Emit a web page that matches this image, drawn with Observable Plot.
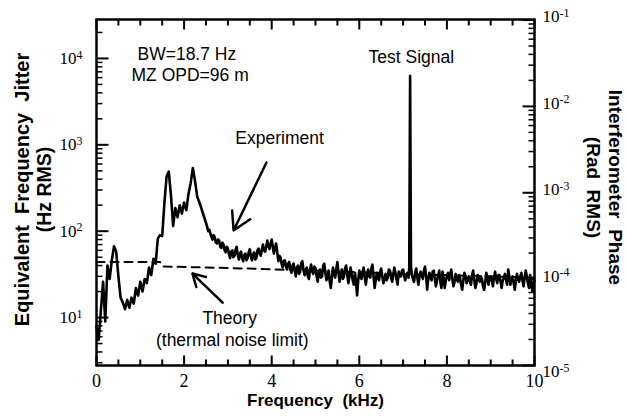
<!DOCTYPE html>
<html><head><meta charset="utf-8">
<script src="https://cdn.jsdelivr.net/npm/d3@7"></script>
<script src="https://cdn.jsdelivr.net/npm/@observablehq/plot@0.6"></script>
<style>
html,body{margin:0;padding:0;background:#fff;}
</style></head><body><div id="chart"></div>
<script>
// Experiment spectrum (frequency in kHz, equivalent frequency jitter in Hz RMS)
const freqKHz = [
  0,0.05,0.1,0.15,0.2,0.25,0.3,0.35,0.4,0.45,
  0.5,0.55,0.6,0.65,0.7,0.75,0.8,0.85,0.9,0.95,
  1,1.05,1.1,1.15,1.2,1.25,1.3,1.35,1.4,1.45,
  1.5,1.55,1.6,1.65,1.7,1.75,1.8,1.85,1.9,1.95,
  2,2.05,2.1,2.15,2.2,2.25,2.3,2.35,2.4,2.45,
  2.5,2.525,2.55,2.575,2.6,2.625,2.65,2.675,2.7,2.725,2.75,2.775,2.8,2.825,2.85,2.875,2.9,2.925,2.95,2.975,
  3,3.025,3.05,3.075,3.1,3.125,3.15,3.175,3.2,3.225,3.25,3.275,3.3,3.325,3.35,3.375,3.4,3.425,3.45,3.475,
  3.5,3.525,3.55,3.575,3.6,3.625,3.65,3.675,3.7,3.725,3.75,3.775,3.8,3.825,3.85,3.875,3.9,3.925,3.95,3.975,
  4,4.025,4.05,4.075,4.1,4.125,4.15,4.175,4.2,4.225,4.25,4.275,4.3,4.325,4.35,4.375,4.4,4.425,4.45,4.475,
  4.5,4.525,4.55,4.575,4.6,4.625,4.65,4.675,4.7,4.725,4.75,4.775,4.8,4.825,4.85,4.875,4.9,4.925,4.95,4.975,
  5,5.025,5.05,5.075,5.1,5.125,5.15,5.175,5.2,5.225,5.25,5.275,5.3,5.325,5.35,5.375,5.4,5.425,5.45,5.475,
  5.5,5.525,5.55,5.575,5.6,5.625,5.65,5.675,5.7,5.725,5.75,5.775,5.8,5.825,5.85,5.875,5.9,5.925,5.95,5.975,
  6,6.025,6.05,6.075,6.1,6.125,6.15,6.175,6.2,6.225,6.25,6.275,6.3,6.325,6.35,6.375,6.4,6.425,6.45,6.475,
  6.5,6.525,6.55,6.575,6.6,6.625,6.65,6.675,6.7,6.725,6.75,6.775,6.8,6.825,6.85,6.875,6.9,6.925,6.95,6.975,
  7,7.025,7.05,7.075,7.1,7.125,7.14,7.16,7.18,7.2,7.225,7.25,7.275,7.3,7.325,7.35,7.375,7.4,7.425,7.45,7.475,
  7.5,7.525,7.55,7.575,7.6,7.625,7.65,7.675,7.7,7.725,7.75,7.775,7.8,7.825,7.85,7.875,7.9,7.925,7.95,7.975,
  8,8.025,8.05,8.075,8.1,8.125,8.15,8.175,8.2,8.225,8.25,8.275,8.3,8.325,8.35,8.375,8.4,8.425,8.45,8.475,
  8.5,8.525,8.55,8.575,8.6,8.625,8.65,8.675,8.7,8.725,8.75,8.775,8.8,8.825,8.85,8.875,8.9,8.925,8.95,8.975,
  9,9.025,9.05,9.075,9.1,9.125,9.15,9.175,9.2,9.225,9.25,9.275,9.3,9.325,9.35,9.375,9.4,9.425,9.45,9.475,
  9.5,9.525,9.55,9.575,9.6,9.625,9.65,9.675,9.7,9.725,9.75,9.775,9.8,9.825,9.85,9.875,9.9,9.925,9.95,9.975,
  10
];
const jitterHz = [
  8,5.5,12,26,9,40,28,46,67,58,
  30,17,15,12.5,16,13,17,14.5,22,18,
  26,20,28,25,38,31,48,42,82,90,
  88,210,430,490,260,115,185,145,200,160,
  215,175,270,360,540,380,250,215,180,150,
  125,112,100,104,94,86,80,90,85,74,72,80,78,66,64,74,70,60,57,66,
  63,54,49,58,60,50,52,61,66,53,47,55,58,48,45,53,55,46,49,57,
  62,51,46,54,57,47,49,60,63,55,52,61,70,60,58,66,78,68,62,72,
  80,66,55,64,72,58,45,52,50,42,38,45,46,39,36,42,44,37,33,40,
  42,35,30,38,40,32,34,43,45,36,31,35,38,30,28,36,41,34,32,39,
  37,30,26,33,36,29,30,40,42,33,27,31,35,26,22,30,38,32,29,36,
  44,33,26,31,36,28,30,37,40,31,25,30,38,32,27,24,33,26,18,27,
  35,30,28,34,38,29,24,31,36,30,29,37,41,30,22,27,33,29,27,34,
  37,30,25,28,32,27,29,36,35,29,26,31,38,33,28,24,34,30,30,35,
  36,30,27,31,33,29,38,6300,40,31,28,26,33,37,29,24,30,34,31,28,35,
  39,30,21,28,33,29,27,34,35,28,23,27,31,35,26,22,34,29,22,27,
  30,33,27,31,36,28,23,26,32,28,26,31,29,24,21,27,33,30,25,28,
  30,26,24,31,35,27,22,25,31,29,26,30,28,23,21,26,33,28,24,29,
  30,27,23,29,34,28,25,31,31,26,22,27,29,32,27,24,36,30,24,28,
  30,25,21,27,32,28,26,30,33,27,23,29,35,30,25,22,31,27,20,24,
  27
];
// Theory (thermal noise limit)
const theoryFreqKHz = [0, 1.45, 1.5, 3, 5, 7, 10];
const theoryHz = [44, 44, 39, 37.5, 35, 32, 29];

// Ticks
const xMajorTicks = [0, 2, 4, 6, 8, 10];
const xMinorTicks = [0.5,1,1.5,2.5,3,3.5,4.5,5,5.5,6.5,7,7.5,8.5,9,9.5];
const yMajorTicks = [10, 100, 1000, 10000];
const yMinorTicks = [3,4,5,6,7,8,9,20,30,40,50,60,70,80,90,200,300,400,500,600,700,800,900,
  2000,3000,4000,5000,6000,7000,8000,9000,20000];
const phaseMajorTicks = [1e-5, 1e-4, 1e-3, 1e-2, 1e-1];
const phaseMinorTicks = [2e-5,3e-5,4e-5,5e-5,6e-5,7e-5,8e-5,9e-5,
  2e-4,3e-4,4e-4,5e-4,6e-4,7e-4,8e-4,9e-4,
  2e-3,3e-3,4e-3,5e-3,6e-3,7e-3,8e-3,9e-3,
  2e-2,3e-2,4e-2,5e-2,6e-2,7e-2,8e-2,9e-2];
const phasePerHz = Math.pow(10, -5.445);   // right axis: phase (rad) per Hz of jitter

// Annotations
const notes = [
  {text: "BW=18.7 Hz", x: 0.936, y: 11200, anchor: "start"},
  {text: "MZ OPD=96 m", x: 0.80, y: 6330, anchor: "start"},
  {text: "Test Signal", x: 6.21, y: 10300, anchor: "start"},
  {text: "Experiment", x: 3.17, y: 1200, anchor: "start"},
  {text: "Theory", x: 3.04, y: 9.75, anchor: "middle"},
  {text: "(thermal noise limit)", x: 3.10, y: 5.42, anchor: "middle"}
];
const arrows = [
  {x1: 3.88, y1: 624, x2: 3.13, y2: 102},
  {x1: 2.88, y1: 14.9, x2: 2.19, y2: 32.3}
];

const W = 629, H = 417, mL = 96, mR = 95, mT = 19, mB = 52;
const fw = W - mL - mR, fh = H - mT - mB;
const yDomain = [Math.pow(10, 0.445), Math.pow(10, 4.451)];
const kPerPx = 10 / fw;                                           // kHz per pixel
const upPx = (px) => Math.pow(10, px * Math.log10(yDomain[1] / yDomain[0]) / fh);

// inward tick segments, in data units (two points per tick, grouped by id)
const tickSegs = [];
const seg = (id, w, a, b) => { tickSegs.push({id, w, x: a[0], y: a[1]}, {id, w, x: b[0], y: b[1]}); };
xMajorTicks.forEach(v => { seg("bM" + v, 2, [v, yDomain[0]], [v, yDomain[0] * upPx(10)]); seg("tM" + v, 2, [v, yDomain[1]], [v, yDomain[1] / upPx(10)]); });
xMinorTicks.forEach(v => { seg("bm" + v, 2, [v, yDomain[0]], [v, yDomain[0] * upPx(6)]); seg("tm" + v, 2, [v, yDomain[1]], [v, yDomain[1] / upPx(6)]); });
yMajorTicks.forEach(v => seg("lM" + v, 2, [0, v], [12 * kPerPx, v]));
yMinorTicks.forEach(v => seg("lm" + v, 1.5, [0, v], [6 * kPerPx, v]));
phaseMajorTicks.forEach(p => seg("rM" + p, 2, [10, p / phasePerHz], [10 - 12 * kPerPx, p / phasePerHz]));
phaseMinorTicks.forEach(p => seg("rm" + p, 1.5, [10, p / phasePerHz], [10 - 6 * kPerPx, p / phasePerHz]));

const experiment = freqKHz.map((f, i) => ({f, v: jitterHz[i]}));
const theory = theoryFreqKHz.map((f, i) => ({f, v: theoryHz[i]}));
const serif = "Liberation Serif";
const sans = "Liberation Sans";
const sp2 = "\u00a0\u00a0";

const chart = Plot.plot({
  width: W, height: H,
  marginLeft: mL, marginRight: mR, marginTop: mT, marginBottom: mB,
  style: {background: "#fff", color: "#000"},
  x: {domain: [0, 10], axis: null},
  y: {type: "log", domain: yDomain, axis: null},
  marks: [
    Plot.line(theory, {x: "f", y: "v", stroke: "#000", strokeWidth: 2, strokeDasharray: "8,6"}),
    Plot.line(experiment, {x: "f", y: "v", stroke: "#000", strokeWidth: 2.6}),
    Plot.arrow(arrows, {x1: "x1", y1: "y1", x2: "x2", y2: "y2", stroke: "#000", strokeWidth: 2.5, headLength: 12}),
    Plot.text(notes.filter(d => d.anchor === "start"), {x: "x", y: "y", text: "text", textAnchor: "start", fontFamily: sans, fontSize: 17.5, fill: "#000"}),
    Plot.text(notes.filter(d => d.anchor === "middle"), {x: "x", y: "y", text: "text", textAnchor: "middle", fontFamily: sans, fontSize: 17.5, fill: "#000"}),
    Plot.frame({stroke: "#000", strokeWidth: 2.5}),
    // inward tick marks
    Plot.line(tickSegs.filter(d => d.w === 2), {x: "x", y: "y", z: "id", stroke: "#000", strokeWidth: 2, strokeLinecap: "butt"}),
    Plot.line(tickSegs.filter(d => d.w === 1.5), {x: "x", y: "y", z: "id", stroke: "#000", strokeWidth: 1.5, strokeLinecap: "butt"}),
    // tick labels
    Plot.axisX({anchor: "bottom", ticks: xMajorTicks, tickSize: 0, tickPadding: 9, label: null,
      fontFamily: serif, fontSize: 18, fill: "#000", tickFormat: d => String(d)}),
    Plot.axisY({anchor: "left", ticks: yMajorTicks, tickSize: 0, tickPadding: 14, label: null,
      fontFamily: serif, fontSize: 17, fill: "#000", tickFormat: d => "10^" + Math.round(Math.log10(d))}),
    Plot.text(phaseMajorTicks.filter(p => p > 1e-5), {x: () => 10, y: p => p / phasePerHz, dx: 8, dy: -3,
      text: p => "10^" + Math.round(Math.log10(p)), textAnchor: "start", fontFamily: serif, fontSize: 17, fill: "#000"}),
    Plot.text(phaseMajorTicks.filter(p => p <= 1e-5), {x: () => 10, y: p => p / phasePerHz, dx: 8, dy: 6,
      text: p => "10^" + Math.round(Math.log10(p)), textAnchor: "start", fontFamily: serif, fontSize: 17, fill: "#000"}),
    // axis titles
    Plot.text(["Frequency" + sp2 + "(kHz)"], {text: d => d, frameAnchor: "bottom", textAnchor: "middle", dy: 40, fontFamily: sans, fontWeight: "bold", fontSize: 17, fill: "#000"}),
    Plot.text(["Equivalent" + sp2 + "Frequency" + sp2 + "Jitter"], {text: d => d, frameAnchor: "left", textAnchor: "middle", dx: -74, dy: -3, rotate: -90, fontFamily: sans, fontWeight: "bold", fontSize: 20, fill: "#000"}),
    Plot.text(["(Hz RMS)"], {text: d => d, frameAnchor: "left", textAnchor: "middle", dx: -52, dy: -3, rotate: -90, fontFamily: sans, fontWeight: "bold", fontSize: 19.5, fill: "#000"}),
    Plot.text(["Interferometer" + sp2 + "Phase"], {text: d => d, frameAnchor: "right", textAnchor: "middle", dx: 81, dy: -5, rotate: 90, fontFamily: sans, fontWeight: "bold", fontSize: 19, fill: "#000"}),
    Plot.text(["(Rad" + sp2 + "RMS)"], {text: d => d, frameAnchor: "right", textAnchor: "middle", dx: 59, dy: -5, rotate: 90, fontFamily: sans, fontWeight: "bold", fontSize: 19, fill: "#000"})
  ]
});

const ns = "http://www.w3.org/2000/svg";
// superscript exponents in tick labels
chart.querySelectorAll("text").forEach(t => {
  if (t.children.length) return;
  const s = t.textContent;
  const i = s.indexOf("^");
  if (i < 0) return;
  t.textContent = "";
  const b = document.createElementNS(ns, "tspan"); b.textContent = s.slice(0, i);
  const e = document.createElementNS(ns, "tspan"); e.textContent = s.slice(i + 1);
  e.setAttribute("dy", "-0.45em"); e.setAttribute("font-size", "70%");
  t.append(b, e);
});

document.getElementById("chart").append(chart);
</script></body></html>
